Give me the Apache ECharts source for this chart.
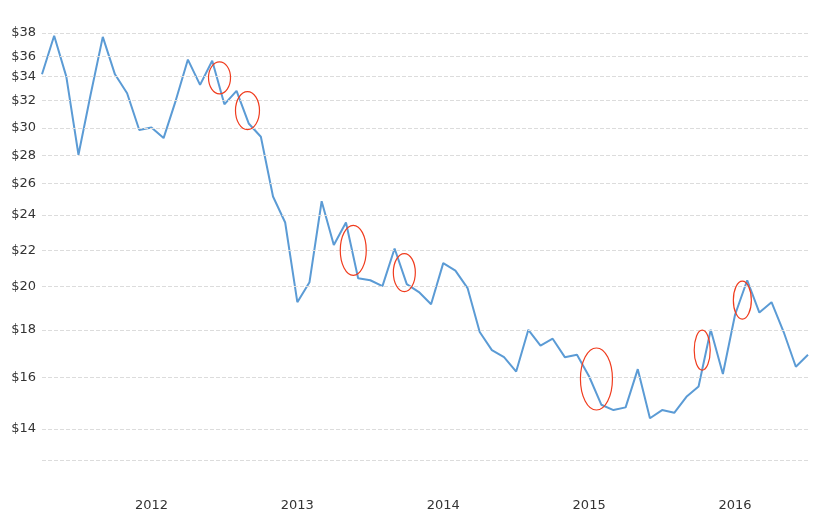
<!DOCTYPE html><html><head><meta charset="utf-8"><script src="https://cdn.jsdelivr.net/npm/echarts@6/dist/echarts.min.js"></script>
<style>html,body{margin:0;background:#fff}#c{width:832px;height:519px}</style></head><body><div id="c"></div><script>
// month index counted from Jan 2011 = 0; first point Apr 2011
const startMonth = 3;
const prices = [34.3,37.8,34.1,28.0,32.6,37.7,34.3,32.7,29.8,30.0,
29.2,32.1,35.6,33.4,35.5,31.8,32.9,30.3,29.3,25.2,
23.6,19.3,20.3,24.9,22.3,23.6,20.5,20.4,20.1,22.1,
20.2,19.8,19.2,21.3,20.9,20.0,17.9,17.1,16.8,16.2,
18.0,17.3,17.6,16.8,16.9,16.0,14.9,14.7,14.8,16.3,
14.4,14.7,14.6,15.2,15.6,18.0,16.1,18.7,20.4,18.8,
19.3,17.9,16.4,16.9];
const yTicks = [40,38,36,34,32,30,28,26,24,22,20,18,16,14,13,12];
const yLabelled = [40,38,36,34,32,30,28,26,24,22,20,18,16,14];
const years = [2012,2013,2014,2015,2016];
// annotation circles: [month index, price, rx, ry]
const circles = [[17.6,34.0,11,16],[19.9,31.3,12,19],[28.6,22.0,13,25],[32.8,20.8,11,19],[48.6,15.9,16,31],[57.3,17.1,8,20],[60.6,19.4,9,19]];
const L = Math.log;
const ch = echarts.init(document.getElementById('c'));
ch.setOption({
 animation:false,
 grid:{left:42,right:24,top:13,bottom:28},
 xAxis:{type:'value',min:3,max:66,axisLine:{show:false},axisTick:{show:false},axisLabel:{show:false},splitLine:{show:false}},
 yAxis:{type:'value',min:L(11.985),max:L(40.04),axisLine:{show:false},axisTick:{show:false},axisLabel:{show:false},splitLine:{show:false}},
 series:[{type:'line',symbol:'none',lineStyle:{color:'#5b9bd5',width:2},
  data:prices.map((p,i)=>[startMonth+i,L(p)]),
  markLine:{silent:true,symbol:'none',animation:false,
   data:[...yTicks.map(t=>({yAxis:L(t),lineStyle:{color:'#dcdcdc',type:'dashed',width:1},
     label:{show:yLabelled.includes(t),position:'start',formatter:'$'+t,color:'#333',fontSize:13,fontFamily:'DejaVu Sans',distance:6}})),
    ...years.map(y=>({xAxis:(y-2011)*12,lineStyle:{color:'rgba(0,0,0,0)',width:1},
     label:{show:true,position:'start',formatter:''+y,color:'#333',opacity:1,fontSize:13,fontFamily:'DejaVu Sans',distance:8}}))]}
 }]
});
const g = circles.map(c=>{const p=ch.convertToPixel({gridIndex:0},[c[0],L(c[1])]);
 return {type:'ellipse',shape:{cx:p[0],cy:p[1],rx:c[2],ry:c[3]},style:{fill:'none',stroke:'#f03c1e',lineWidth:1.2},z:100};});
ch.setOption({graphic:g});
</script></body></html>
